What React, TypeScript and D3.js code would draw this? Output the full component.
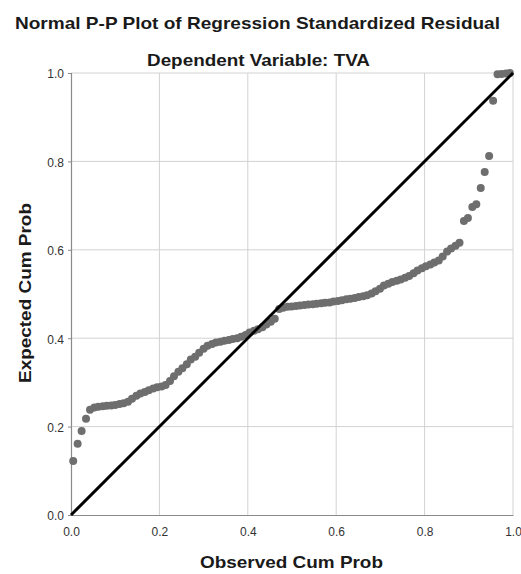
import React, { useRef, useEffect } from 'react';
import * as d3 from 'd3';

// observed cumulative probability (x) and expected cumulative probability (y)
const observed = [
  0.005, 0.015, 0.024, 0.034, 0.043, 0.053, 0.062, 0.072, 0.081, 0.091,
  0.100, 0.110, 0.119, 0.129, 0.138, 0.148, 0.157, 0.167, 0.176, 0.186,
  0.195, 0.205, 0.214, 0.224, 0.233, 0.243, 0.252, 0.262, 0.271, 0.281,
  0.290, 0.300, 0.309, 0.319, 0.328, 0.338, 0.347, 0.357, 0.366, 0.376,
  0.385, 0.395, 0.404, 0.414, 0.423, 0.433, 0.442, 0.452, 0.461, 0.471,
  0.480, 0.490, 0.499, 0.509, 0.518, 0.528, 0.537, 0.547, 0.556, 0.566,
  0.575, 0.585, 0.594, 0.604, 0.613, 0.623, 0.632, 0.642, 0.651, 0.661,
  0.670, 0.680, 0.689, 0.699, 0.708, 0.718, 0.727, 0.737, 0.746, 0.756,
  0.765, 0.775, 0.784, 0.794, 0.803, 0.813, 0.822, 0.832, 0.841, 0.851,
  0.860, 0.870, 0.879, 0.889, 0.898, 0.908, 0.917, 0.927, 0.936, 0.946,
  0.955, 0.965, 0.974, 0.984, 0.993
];

const expected = [
  0.122, 0.161, 0.190, 0.218, 0.238, 0.243, 0.245, 0.246, 0.247, 0.248,
  0.249, 0.251, 0.253, 0.256, 0.263, 0.270, 0.275, 0.278, 0.282, 0.286,
  0.289, 0.291, 0.294, 0.303, 0.314, 0.324, 0.332, 0.341, 0.352, 0.358,
  0.367, 0.376, 0.383, 0.387, 0.390, 0.392, 0.394, 0.396, 0.398, 0.400,
  0.403, 0.407, 0.413, 0.417, 0.420, 0.425, 0.431, 0.437, 0.444, 0.466,
  0.469, 0.471, 0.472, 0.473, 0.474, 0.475, 0.476, 0.477, 0.478, 0.479,
  0.480, 0.481, 0.483, 0.484, 0.486, 0.488, 0.489, 0.491, 0.493, 0.495,
  0.497, 0.501, 0.506, 0.512, 0.519, 0.523, 0.527, 0.530, 0.533, 0.537,
  0.541, 0.547, 0.553, 0.558, 0.563, 0.567, 0.571, 0.576, 0.585, 0.596,
  0.603, 0.609, 0.616, 0.665, 0.672, 0.697, 0.703, 0.740, 0.776, 0.812,
  0.937, 0.997, 0.998, 0.999, 1.000
];

const ticks = [0, 0.2, 0.4, 0.6, 0.8, 1.0];
const title = 'Normal P-P Plot of Regression Standardized Residual';
const subtitle = 'Dependent Variable: TVA';

function PPPlot({ width = 521, height = 574 }) {
  const svgRef = useRef<SVGSVGElement>(null);

  useEffect(() => {
    const svg = d3.select(svgRef.current);
    svg.selectAll('*').remove();

    const margin = { top: 73, right: 8, bottom: 59, left: 71 };
    const innerWidth = width - margin.left - margin.right;
    const innerHeight = height - margin.top - margin.bottom;
    const font = '"Liberation Sans", Arial, sans-serif';

    const x = d3.scaleLinear().domain([0, 1]).range([0, innerWidth]);
    const y = d3.scaleLinear().domain([0, 1]).range([innerHeight, 0]);

    svg.attr('width', width).attr('height', height)
      .style('font-family', font);

    svg.append('rect').attr('width', width).attr('height', height).attr('fill', '#fff');

    // titles (stretched to the width they take in the original)
    svg.append('text')
      .attr('x', 257.5).attr('y', 29)
      .attr('text-anchor', 'middle')
      .attr('font-size', 17).attr('font-weight', 'bold').attr('fill', '#1a1a1a')
      .attr('textLength', 485).attr('lengthAdjust', 'spacingAndGlyphs')
      .text(title);
    svg.append('text')
      .attr('x', 258.5).attr('y', 66)
      .attr('text-anchor', 'middle')
      .attr('font-size', 17).attr('font-weight', 'bold').attr('fill', '#1a1a1a')
      .attr('textLength', 223).attr('lengthAdjust', 'spacingAndGlyphs')
      .text(subtitle);

    const g = svg.append('g')
      .attr('transform', `translate(${margin.left},${margin.top})`);

    // grid
    g.selectAll('.vgrid').data(ticks.slice(1)).enter().append('line')
      .attr('x1', d => x(d)).attr('x2', d => x(d))
      .attr('y1', 0).attr('y2', innerHeight)
      .attr('stroke', '#d2d2d2').attr('stroke-width', 1);
    g.selectAll('.hgrid').data(ticks.slice(1)).enter().append('line')
      .attr('x1', 0).attr('x2', innerWidth)
      .attr('y1', d => y(d)).attr('y2', d => y(d))
      .attr('stroke', '#d2d2d2').attr('stroke-width', 1);

    // axes
    const xAxis = g.append('g')
      .attr('transform', `translate(0,${innerHeight})`)
      .call(d3.axisBottom(x).tickValues(ticks).tickFormat(d3.format('.1f')).tickSize(0).tickPadding(12));
    const yAxis = g.append('g')
      .call(d3.axisLeft(y).tickValues(ticks).tickFormat(d3.format('.1f')).tickSize(3).tickPadding(4));

    [xAxis, yAxis].forEach(ax => {
      ax.select('.domain').attr('stroke', '#8a8a8a').attr('stroke-width', 1.2);
      ax.selectAll('.tick line').attr('stroke', '#8a8a8a');
      ax.selectAll('.tick text')
        .attr('font-family', font).attr('font-size', 12).attr('fill', '#333');
    });
    yAxis.selectAll('.tick text').attr('dy', '0.4em');

    // points
    g.selectAll('circle')
      .data(observed.map((o, i) => ({ o, e: expected[i] })))
      .enter()
      .append('circle')
      .attr('cx', d => x(d.o))
      .attr('cy', d => y(d.e))
      .attr('r', 4)
      .attr('fill', '#6e6e6e');

    // reference line
    g.append('line')
      .attr('x1', x(0)).attr('y1', y(0))
      .attr('x2', x(1)).attr('y2', y(1))
      .attr('stroke', '#000').attr('stroke-width', 3);

    // axis titles
    svg.append('text')
      .attr('x', 291.5).attr('y', 568)
      .attr('text-anchor', 'middle')
      .attr('font-size', 17).attr('font-weight', 'bold').attr('fill', '#1a1a1a')
      .attr('textLength', 183).attr('lengthAdjust', 'spacingAndGlyphs')
      .text('Observed Cum Prob');
    svg.append('text')
      .attr('transform', 'translate(31,293) rotate(-90)')
      .attr('text-anchor', 'middle')
      .attr('font-size', 17).attr('font-weight', 'bold').attr('fill', '#1a1a1a')
      .attr('textLength', 180).attr('lengthAdjust', 'spacingAndGlyphs')
      .text('Expected Cum Prob');
  }, [width, height]);

  return <svg ref={svgRef} style={{ position: 'absolute', left: 0, top: 0, display: 'block' }} />;
}

export default function App() {
  return <PPPlot />;
}
